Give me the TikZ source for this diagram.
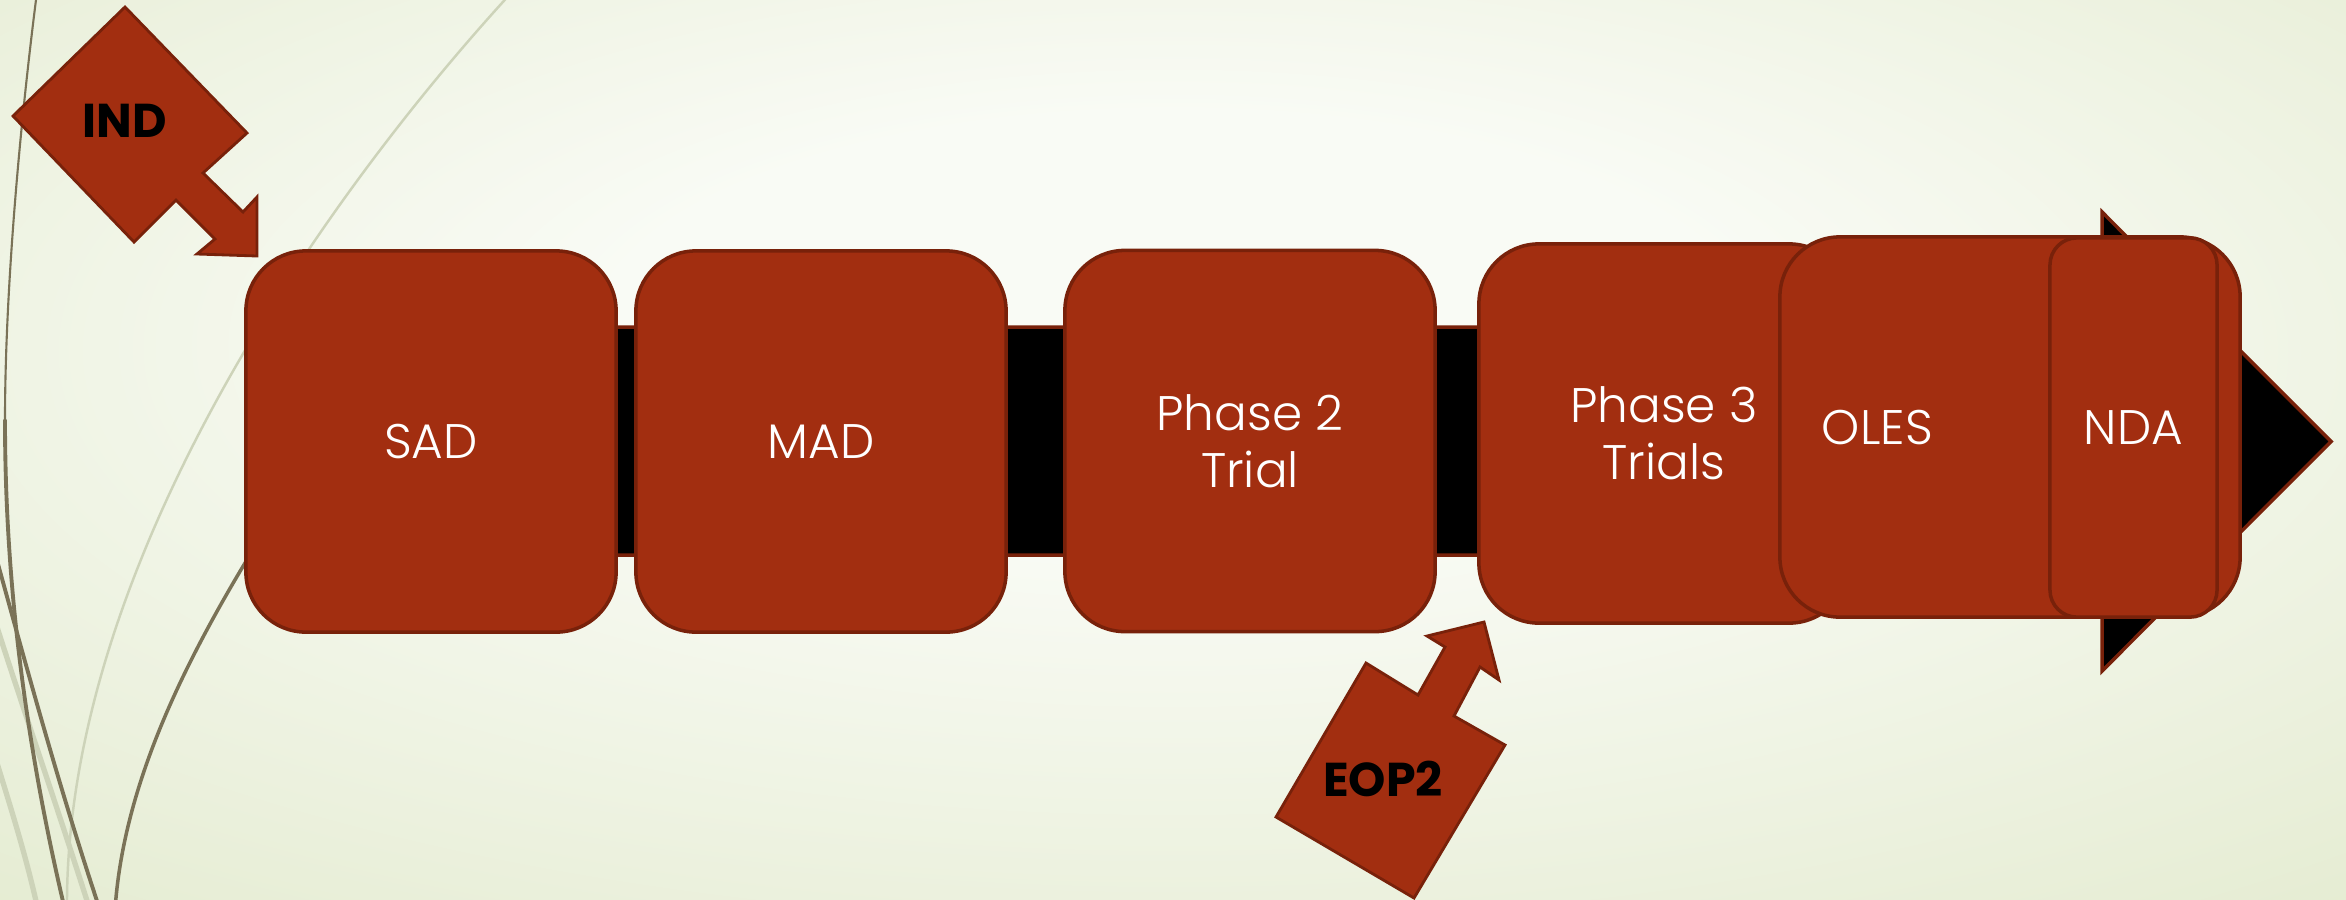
\documentclass[tikz,border=0pt]{standalone}
\usepackage{fontspec}
\setmainfont{Poppins}
\newfontfamily\stagefont{Poppins}[UprightFont={* Light}]

\definecolor{bgin}{HTML}{F9FBF5}
\definecolor{bgout}{HTML}{DDE6C4}
\definecolor{stagefill}{HTML}{A22E10}
\definecolor{stageline}{HTML}{78210A}
\definecolor{wispdark}{HTML}{7A7257}
\definecolor{wisplight}{HTML}{CDD3B9}

% soft radial background, lightest a little above the middle
\pgfdeclareradialshading{wispbg}{\pgfpoint{0bp}{8bp}}{color(0bp)=(bgin); color(12bp)=(bgin); color(50bp)=(bgout); color(75bp)=(bgout)}

\begin{document}
\begin{tikzpicture}[x=0.01cm, y=-0.01cm,
  stage/.style={draw=stageline, fill=stagefill, line width=1pt,
    rounded corners=0.6cm, minimum width=3.7cm, minimum height=3.81cm,
    inner sep=0pt, text=white, align=center,
    font=\stagefont\fontsize{13.8}{16.2}\selectfont},
  callout/.style={draw=stageline, fill=stagefill, line width=0.8pt, line join=miter},
  callouttext/.style={font=\bfseries\fontsize{13.5}{16}\selectfont, text=black, inner sep=0pt},
  wispd/.style={draw=wispdark, line cap=round},
  wispl/.style={draw=wisplight, line cap=round},
  band/.style={draw=stageline, fill=black, line width=1pt, line join=miter}]

\useasboundingbox (0,0) rectangle (2346,899);
\shade[shading=wispbg] (0,0) rectangle (2346,899);

% wisps on the left edge
\begin{scope}
  \clip (0,0) rectangle (2346,899);
  % pale strands
  \draw[wispl, line width=1.5pt] (-10,605) .. controls (20,700) and (55,800) .. (90,910);
  \draw[wispl, line width=1.5pt] (-10,740) .. controls (5,790) and (25,850) .. (38,910);
  \draw[wispl, line width=0.7pt] (512,-8) .. controls (330,190) and (64,560) .. (67,910);
  % dark strands
  \draw[wispd, line width=0.6pt] (37,-8) .. controls (18,140) and (5,300) .. (5,420);
  \draw[wispd, line width=1.1pt] (5,420) .. controls (5,560) and (20,720) .. (65,910);
  \draw[wispd, line width=1.1pt] (-10,535) .. controls (30,680) and (60,790) .. (100,910);
  \draw[wispd, line width=1pt] (290,488) -- (245,563) .. controls (179,673) and (123,790) .. (115,910);
\end{scope}

% timeline band with its arrow head
\draw[band] (300,327) -- (2102,327) -- (2102,212) -- (2331,441.5)
  -- (2102,671) -- (2102,555) -- (300,555) -- cycle;

% stages
\node[stage] (sad) at (431,441.5) {SAD};
\node[stage] (mad) at (821,441.5) {MAD};
\node[stage] (ph2) at (1250,441) {Phase 2\\Trial};
\node[stage, minimum height=3.79cm] (ph3) at (1664,433.5) {Phase 3\\Trials};
\node[stage, minimum width=4.6cm, minimum height=3.8cm, text width=3.76cm, align=left] (oles) at (2010,427) {OLES};
\node[stage, minimum width=1.67cm, minimum height=3.79cm, rounded corners=0.27cm] (nda) at (2133.5,427.5) {NDA};

% milestone callouts
\draw[callout] (125,7) -- (247,133) -- (203,173) -- (243,212) -- (257,197)
  -- (257,256) -- (197,254) -- (215,239) -- (176,200) -- (134,242) -- (13,116) -- cycle;
\node[callouttext] (ind) at (125,121) {IND};

\draw[callout] (1366,663) -- (1418,695) -- (1445,647) -- (1427,636) -- (1484,622)
  -- (1499,680) -- (1480,667) -- (1454,716) -- (1505,745) -- (1414,898) -- (1276,817) -- cycle;
\node[callouttext] (eop2) at (1383,779) {EOP2};
\end{tikzpicture}
\end{document}
